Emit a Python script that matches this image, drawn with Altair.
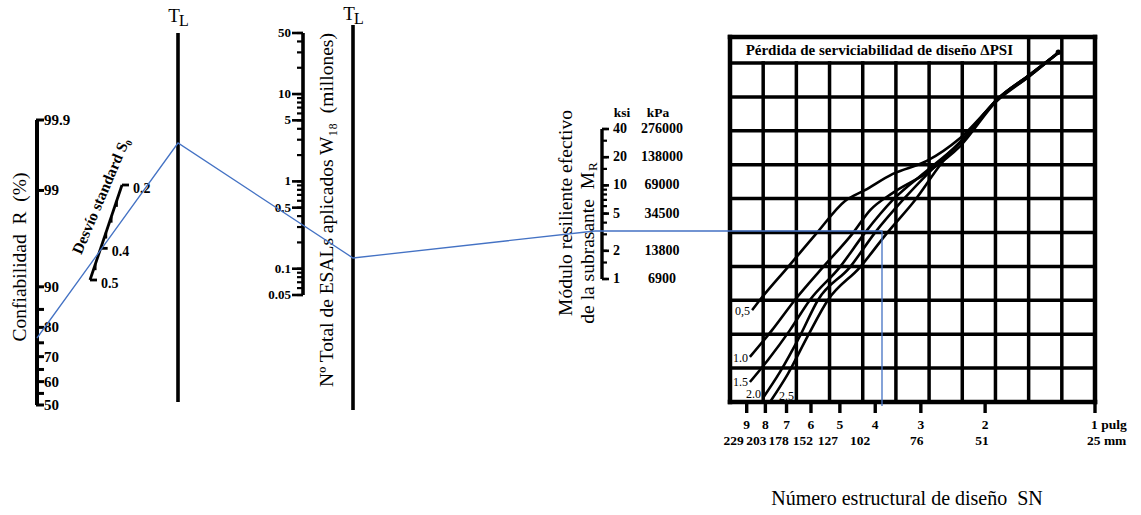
import altair as alt
import pandas as pd
from statistics import NormalDist

W, H = 1141, 515
SERIF = "Liberation Serif"
INK = "#000000"
BLUE = "#4472C4"
NB = "\u00a0"

reliability_ticks = [50, 55, 60, 65, 70, 75, 80, 85, 90, 99, 99.9]
reliability_labelled = [50, 60, 70, 80, 90, 99, 99.9]
reliability_text = ["50", "60", "70", "80", "90", "99", "99.9"]

so_minor = [0.25, 0.3, 0.35, 0.45]
so_labelled = [0.2, 0.4, 0.5]
so_text = ["0.2", "0.4", "0.5"]

esal_ticks = [0.05, 0.06, 0.07, 0.08, 0.09, 0.1, 0.2, 0.3, 0.4, 0.5, 0.6, 0.7, 0.8, 0.9,
              1, 2, 3, 4, 5, 6, 7, 8, 9, 10, 20, 30, 40, 50]
esal_labelled = [0.05, 0.1, 0.5, 1, 5, 10, 50]
esal_text = ["0.05", "0.1", "0.5", "1", "5", "10", "50"]

mr_ticks_ksi = [1, 1.5, 2, 3, 4, 5, 6, 7, 8, 9, 10, 15, 20, 30, 40]
mr_labelled_ksi = [1, 2, 5, 10, 20, 40]
mr_text_ksi = ["1", "2", "5", "10", "20", "40"]
mr_text_kpa = ["6900", "13800", "34500", "69000", "138000", "276000"]

sn_ticks = [9, 8, 7, 6, 5, 4, 3, 2, 1]
sn_labelled = [9, 8, 7, 6, 5, 4, 3, 2]
sn_text_in = ["9", "8", "7", "6", "5", "4", "3", "2"]
sn_text_mm = ["229", "203", "178", "152", "127", "102", "76", "51"]

# design serviceability loss curves: SN value and grid row (0 = bottom, 10 = header line)
dpsi_names = ["0,5", "1.0", "1.5", "2.0", "2.5"]
dpsi_05_sn = [8.70, 8.28, 6.94, 5.78, 4.84, 4.27, 3.58, 2.89, 2.34, 1.86, 1.51, 1.26]
dpsi_05_row = [2.71, 3.01, 3.98, 4.99, 5.93, 6.25, 6.73, 7.11, 7.79, 8.88, 9.62, 10.32]
dpsi_10_sn = [8.82, 7.67, 6.64, 5.56, 4.60, 4.13, 3.58, 2.89, 2.34, 1.86, 1.51, 1.26]
dpsi_10_row = [1.33, 2.12, 3.01, 3.98, 4.99, 5.66, 6.17, 6.76, 7.55, 8.88, 9.62, 10.30]
dpsi_15_sn = [8.82, 7.87, 6.85, 6.04, 5.00, 4.27, 3.58, 2.83, 2.27, 1.86, 1.51, 1.26]
dpsi_15_row = [0.59, 1.24, 2.12, 3.01, 3.98, 4.99, 5.96, 6.90, 7.79, 8.91, 9.65, 10.30]
dpsi_20_sn = [8.12, 7.30, 6.43, 5.74, 4.69, 4.01, 3.36, 2.74, 2.27, 1.86, 1.51, 1.26]
dpsi_20_row = [0.12, 0.88, 1.95, 3.01, 3.98, 4.99, 5.96, 6.96, 7.82, 8.91, 9.65, 10.30]
dpsi_25_sn = [7.77, 6.94, 6.12, 5.39, 4.40, 3.71, 3.11, 2.63, 2.26, 1.86, 1.51, 1.26]
dpsi_25_row = [0.00, 0.83, 1.95, 3.01, 3.98, 4.99, 5.96, 7.05, 7.85, 8.91, 9.65, 10.30]

# worked example drawn in blue (page coordinates of its turning points)
guide_x = [37, 178, 353, 595, 882, 882]
guide_y = [338, 143, 258, 231, 231, 406]

GRID_COLS = 11
GRID_ROWS = 10
HEADER_TOP = 10.77

# ---------------- helpers ----------------
def lin(domain, rng):
    return alt.Scale(type="linear", domain=domain, range=rng, nice=False, zero=False)


def logs(domain, rng):
    return alt.Scale(type="log", domain=domain, range=rng, nice=False)


one = pd.DataFrame({"k": [0]})


def label(text, x, y, size, weight="normal", angle=0, align="center", baseline="middle"):
    return alt.Chart(pd.DataFrame({"t": [text]})).mark_text(
        font=SERIF, fontSize=size, fontWeight=weight, angle=angle,
        align=align, baseline=baseline, color=INK
    ).encode(x=alt.value(x), y=alt.value(y), text="t:N")


def vrule(x, y0, y1, width):
    return alt.Chart(one).mark_rule(color=INK, strokeWidth=width).encode(
        x=alt.value(x), y=alt.value(y0), y2=alt.value(y1))


layers = []

# ---------------- Confiabilidad R (probability scale) ----------------
nd = NormalDist()


def probit(p):
    return nd.inv_cdf(p / 100.0)


r_scale = lin([0, probit(99.9)], [405, 120])
r_spine = pd.DataFrame({"z0": [probit(50)], "z1": [probit(99.9)]})
r_tick_df = pd.DataFrame({"z": [probit(v) for v in reliability_ticks]})
r_lab_df = pd.DataFrame({"z": [probit(v) for v in reliability_labelled], "t": reliability_text})
layers += [
    alt.Chart(r_spine).mark_rule(color=INK, strokeWidth=4).encode(
        x=alt.value(37), y=alt.Y("z0:Q", scale=r_scale, axis=None), y2="z1:Q"),
    alt.Chart(r_tick_df).mark_rule(color=INK, strokeWidth=3).encode(
        x=alt.value(36), x2=alt.value(44), y=alt.Y("z:Q", scale=r_scale, axis=None)),
    alt.Chart(r_lab_df).mark_text(font=SERIF, fontSize=15, fontWeight="bold", align="left",
                                  baseline="middle", color=INK).encode(
        x=alt.value(44), y=alt.Y("z:Q", scale=r_scale, axis=None), text="t:N"),
    label(f"Confiabilidad{NB} R{NB} (%)", 20, 257, 19.5, angle=270),
]

# ---------------- Desvío standard So (slanted scale) ----------------
so_xs = lin([0.2, 0.5], [122, 90])
so_ys = lin([0.2, 0.5], [185, 280])
so_spine = pd.DataFrame({"s": [0.2, 0.5]})
so_minor_df = pd.DataFrame({"s": so_minor})
so_lab_df = pd.DataFrame({"s": so_labelled, "t": so_text})
layers += [
    alt.Chart(so_spine).mark_line(color=INK, strokeWidth=2.8).encode(
        x=alt.X("s:Q", scale=so_xs, axis=None), y=alt.Y("s:Q", scale=so_ys, axis=None)),
    alt.Chart(so_lab_df).mark_rule(color=INK, strokeWidth=2.8, x2Offset=7).encode(
        x=alt.X("s:Q", scale=so_xs, axis=None), y=alt.Y("s:Q", scale=so_ys, axis=None),
        x2="s:Q", y2="s:Q"),
    alt.Chart(so_minor_df).mark_rule(color=INK, strokeWidth=2.4, y2Offset=6).encode(
        x=alt.X("s:Q", scale=so_xs, axis=None), y=alt.Y("s:Q", scale=so_ys, axis=None),
        x2="s:Q", y2="s:Q"),
    alt.Chart(so_lab_df).mark_text(font=SERIF, fontSize=14, fontWeight="bold", align="left",
                                   baseline="middle", dx=11, dy=4, color=INK).encode(
        x=alt.X("s:Q", scale=so_xs, axis=None), y=alt.Y("s:Q", scale=so_ys, axis=None), text="t:N"),
    label("Desvío standard S\u2080", 101, 196, 15.5, weight="bold", angle=293),
]

# ---------------- TL turning lines ----------------
layers += [
    vrule(178, 33, 402, 3.6),
    vrule(353, 25, 410, 3.6),
    label("T", 174, 16, 19),
    label("L", 184, 21, 16),
    label("T", 349, 14, 19),
    label("L", 359, 19, 16),
]

# ---------------- ESAL W18 (log scale) ----------------
esal_scale = logs([0.05, 50], [295, 33])
layers += [
    alt.Chart(pd.DataFrame({"a": [0.05], "b": [50]})).mark_rule(color=INK, strokeWidth=3.6).encode(
        x=alt.value(303), y=alt.Y("a:Q", scale=esal_scale, axis=None), y2="b:Q"),
    alt.Chart(pd.DataFrame({"v": esal_ticks})).mark_rule(color=INK, strokeWidth=2.2).encode(
        x=alt.value(297), x2=alt.value(303), y=alt.Y("v:Q", scale=esal_scale, axis=None)),
    alt.Chart(pd.DataFrame({"v": esal_labelled})).mark_rule(color=INK, strokeWidth=2.6).encode(
        x=alt.value(292), x2=alt.value(303), y=alt.Y("v:Q", scale=esal_scale, axis=None)),
    alt.Chart(pd.DataFrame({"v": esal_labelled, "t": esal_text})).mark_text(
        font=SERIF, fontSize=13, fontWeight="bold", align="right", baseline="middle", color=INK
    ).encode(x=alt.value(291), y=alt.Y("v:Q", scale=esal_scale, axis=None), text="t:N"),
    label(f"N\u00ba Total de ESALs aplicados W\u2081\u2088{NB} (millones)", 327, 210, 19.5, angle=270),
]

# ---------------- Subgrade resilient modulus MR (log scale) ----------------
mr_scale = logs([1, 40], [279, 129])
layers += [
    alt.Chart(pd.DataFrame({"a": [1], "b": [40]})).mark_rule(color=INK, strokeWidth=3.4).encode(
        x=alt.value(602), y=alt.Y("a:Q", scale=mr_scale, axis=None), y2="b:Q"),
    alt.Chart(pd.DataFrame({"v": mr_ticks_ksi})).mark_rule(color=INK, strokeWidth=2.2).encode(
        x=alt.value(602), x2=alt.value(607), y=alt.Y("v:Q", scale=mr_scale, axis=None)),
    alt.Chart(pd.DataFrame({"v": mr_labelled_ksi})).mark_rule(color=INK, strokeWidth=2.6).encode(
        x=alt.value(602), x2=alt.value(609), y=alt.Y("v:Q", scale=mr_scale, axis=None)),
    alt.Chart(pd.DataFrame({"v": mr_labelled_ksi, "t": mr_text_ksi})).mark_text(
        font=SERIF, fontSize=14, fontWeight="bold", align="left", baseline="middle", color=INK
    ).encode(x=alt.value(613), y=alt.Y("v:Q", scale=mr_scale, axis=None), text="t:N"),
    alt.Chart(pd.DataFrame({"v": mr_labelled_ksi, "t": mr_text_kpa})).mark_text(
        font=SERIF, fontSize=14, fontWeight="bold", align="center", baseline="middle", color=INK
    ).encode(x=alt.value(662), y=alt.Y("v:Q", scale=mr_scale, axis=None), text="t:N"),
    label("ksi", 622, 113, 13.5, weight="bold"),
    label("kPa", 658, 113, 13.5, weight="bold"),
    label("Módulo resiliente efectivo", 566, 213, 19.5, angle=270),
    label(f"de la subrasante{NB} M", 588, 172, 19.5, angle=270, align="right"),
    label("R", 593, 171, 13, angle=270, align="left"),
]

# ---------------- design chart grid ----------------
gxs = lin([0, GRID_COLS], [730, 1095])
gys = lin([0, GRID_ROWS], [402, 63])

inner = []
for i in range(1, GRID_COLS):
    inner.append((i, i, 0, GRID_ROWS))
for i in (GRID_COLS - 2, GRID_COLS - 1):
    inner.append((i, i, GRID_ROWS, HEADER_TOP))
for j in range(1, GRID_ROWS + 1):
    inner.append((0, GRID_COLS, j, j))
inner_df = pd.DataFrame(inner, columns=["x0", "x1", "y0", "y1"])
border_df = pd.DataFrame([
    (0, 0, 0, HEADER_TOP), (GRID_COLS, GRID_COLS, 0, HEADER_TOP),
    (0, GRID_COLS, 0, 0), (0, GRID_COLS, HEADER_TOP, HEADER_TOP)],
    columns=["x0", "x1", "y0", "y1"])


def grid_rules(df, width):
    return alt.Chart(df).mark_rule(color=INK, strokeWidth=width, strokeCap="square").encode(
        x=alt.X("x0:Q", scale=gxs, axis=None), x2="x1:Q",
        y=alt.Y("y0:Q", scale=gys, axis=None), y2="y1:Q")


layers += [
    grid_rules(inner_df, 3.5),
    grid_rules(border_df, 4.5),
    alt.Chart(pd.DataFrame({"gx": [(GRID_COLS - 2) / 2], "gy": [(GRID_ROWS + HEADER_TOP) / 2],
                            "t": ["Pérdida de serviciabilidad de diseño \u0394PSI"]})).mark_text(
        font=SERIF, fontSize=15, fontWeight="bold", color=INK, baseline="middle").encode(
        x=alt.X("gx:Q", scale=gxs, axis=None), y=alt.Y("gy:Q", scale=gys, axis=None), text="t:N"),
]

# ---------------- SN axis under the grid ----------------
sn_scale = logs([1, 10], [1095, 730])
layers += [
    alt.Chart(pd.DataFrame({"sn": sn_ticks})).mark_rule(color=INK, strokeWidth=3.4).encode(
        x=alt.X("sn:Q", scale=sn_scale, axis=None), y=alt.value(402), y2=alt.value(413)),
    alt.Chart(pd.DataFrame({"sn": sn_labelled, "t": sn_text_in})).mark_text(
        font=SERIF, fontSize=13.5, fontWeight="bold", color=INK, baseline="middle").encode(
        x=alt.X("sn:Q", scale=sn_scale, axis=None), y=alt.value(425), text="t:N"),
    alt.Chart(pd.DataFrame({"sn": [1], "t": ["1 pulg"]})).mark_text(
        font=SERIF, fontSize=13.5, fontWeight="bold", color=INK, baseline="middle", align="left", dx=-4).encode(
        x=alt.X("sn:Q", scale=sn_scale, axis=None), y=alt.value(425), text="t:N"),
    alt.Chart(pd.DataFrame({"sn": [1], "t": ["25 mm"]})).mark_text(
        font=SERIF, fontSize=13.5, fontWeight="bold", color=INK, baseline="middle", align="left", dx=-8).encode(
        x=alt.X("sn:Q", scale=sn_scale, axis=None), y=alt.value(441), text="t:N"),
    label(f"Número estructural de diseño{NB} SN", 907, 499, 20),
]
# millimetre labels sit in an evenly spaced row, nudged left of their ticks
mm_nudge = [-13, -9, -8, -8, -12, -15, -4, -3]
for sn_v, txt, nudge in zip(sn_labelled, sn_text_mm, mm_nudge):
    layers.append(
        alt.Chart(pd.DataFrame({"sn": [sn_v], "t": [txt]})).mark_text(
            font=SERIF, fontSize=13.5, fontWeight="bold", color=INK, baseline="middle", dx=nudge).encode(
            x=alt.X("sn:Q", scale=sn_scale, axis=None), y=alt.value(441), text="t:N"))

# ---------------- Delta PSI curves ----------------
curve_sn = [dpsi_05_sn, dpsi_10_sn, dpsi_15_sn, dpsi_20_sn, dpsi_25_sn]
curve_row = [dpsi_05_row, dpsi_10_row, dpsi_15_row, dpsi_20_row, dpsi_25_row]
rows = []
for name, sns, rws in zip(dpsi_names, curve_sn, curve_row):
    for i, (s, r) in enumerate(zip(sns, rws)):
        rows.append({"curve": name, "i": i, "sn": s, "row": r})
curves_df = pd.DataFrame(rows)
starts_df = curves_df[curves_df.i == 0]

label_style = {"0,5": (-2, 1, "right"), "1.0": (-2, 1, "right"), "1.5": (-2, 0, "right"),
               "2.0": (-2, -4, "right"), "2.5": (9, -6, "left")}

layers += [
    alt.Chart(curves_df).mark_line(color=INK, strokeWidth=2.6, interpolate="monotone").encode(
        x=alt.X("sn:Q", scale=sn_scale, axis=None), y=alt.Y("row:Q", scale=gys, axis=None),
        detail="curve:N", order="i:Q"),
    alt.Chart(curves_df[curves_df.i == curves_df.i.max()].head(1)).mark_point(
        filled=True, color=INK, size=30, opacity=1).encode(
        x=alt.X("sn:Q", scale=sn_scale, axis=None), y=alt.Y("row:Q", scale=gys, axis=None)),
]
for name in dpsi_names:
    ddx, ddy, al = label_style[name]
    layers.append(
        alt.Chart(starts_df[starts_df.curve == name]).mark_text(
            font=SERIF, fontSize=12, color=INK, align=al, baseline="middle", dx=ddx, dy=ddy).encode(
            x=alt.X("sn:Q", scale=sn_scale, axis=None), y=alt.Y("row:Q", scale=gys, axis=None),
            text="curve:N"))

# ---------------- blue worked example ----------------
guide_df = pd.DataFrame({"px": guide_x, "py": guide_y, "i": list(range(len(guide_x)))})
layers.append(
    alt.Chart(guide_df).mark_line(color=BLUE, strokeWidth=1.3).encode(
        x=alt.X("px:Q", scale=lin([0, W], [0, W]), axis=None),
        y=alt.Y("py:Q", scale=lin([0, H], [0, H]), axis=None),
        order="i:Q")
)

chart = alt.layer(*layers).resolve_scale(x="independent", y="independent").properties(
    width=W, height=H, padding=0, background="white",
    autosize=alt.AutoSizeParams(type="none"),
).configure_view(stroke=None)

chart.save("out.html", embed_options={"renderer": "svg", "actions": False})
